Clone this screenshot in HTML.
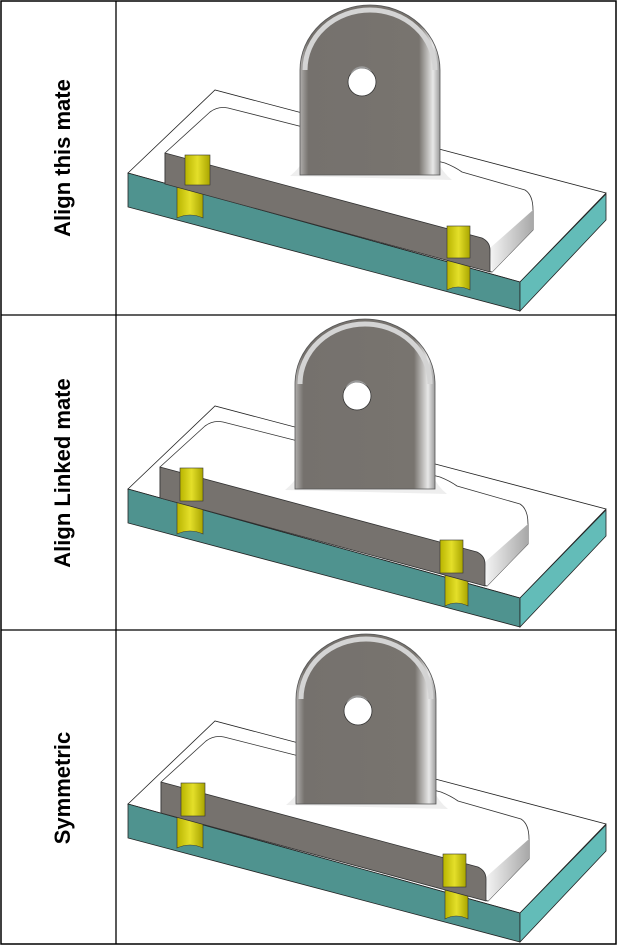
<!DOCTYPE html>
<html><head><meta charset="utf-8"><style>
html,body{margin:0;padding:0;background:#fff}
svg{display:block}
text{font-family:"Liberation Sans",sans-serif;font-weight:bold;font-size:22px}
</style></head><body>
<svg width="617" height="946" viewBox="0 0 617 946" xmlns="http://www.w3.org/2000/svg">
<defs>
<linearGradient id="yel" x1="0" x2="1" y1="0" y2="0">
<stop offset="0" stop-color="#b8b400"/><stop offset="0.5" stop-color="#e4df2a"/><stop offset="1" stop-color="#a9a500"/></linearGradient>
<linearGradient id="ear" x1="0" x2="1"><stop offset="0" stop-color="#b0aeac"/><stop offset="0.06" stop-color="#75716d"/><stop offset="0.85" stop-color="#78746f"/><stop offset="0.95" stop-color="#e8e8e8"/><stop offset="1" stop-color="#9a9a9a"/></linearGradient>
<linearGradient id="slab" x1="0" x2="1"><stop offset="0" stop-color="#f4f4f4"/><stop offset="1" stop-color="#a8a8a8"/></linearGradient>
<g id="plate">
<polygon points="128,173 215,90 606,193 520,282" fill="#fff" stroke="#222" stroke-width="0.8"/>
<polygon points="128,173 520,282 520,311 128,207" fill="#4f938f" stroke="#222" stroke-width="0.8"/>
<polygon points="520,282 606,194 606,220 520,311" fill="#63bcb8" stroke="#222" stroke-width="0.8"/>
</g>
<g id="upper">
<path d="M165,153 L210,112 Q218,106 228,108 L445,163 Q455,167 462,172 L525,190 Q533,195 533,210 L533,230 L492,272 L165,183 Z" fill="#fff" stroke="#333" stroke-width="0.8"/>
<polygon points="490,248 533,210 533,230 492,272" fill="url(#slab)"/>
<path d="M165,153 L482,238 Q490,242 490,250 L490,272 L165,184 Z" fill="#76726e" stroke="#333" stroke-width="0.8"/>
<path d="M290,176 Q300,168 303,160 L437,160 Q442,172 452,180 Z" fill="#eeeeee"/>
<path d="M300,175 L300,70 A70,65 0 0 1 440,70 L440,175 Z" fill="url(#ear)" stroke="#555" stroke-width="0.8"/>
<path d="M305,70 A65,60 0 0 1 435,70" fill="none" stroke="#d4d4d4" stroke-width="5"/>
<circle cx="362" cy="82" r="14" fill="#fff" stroke="#333" stroke-width="0.8"/>
<path d="M350,76 A14,14 0 0 1 372,72 A12,12 0 0 0 350,76Z" fill="#999"/>
</g>
</defs>

<rect x="1" y="1" width="615" height="943" fill="none" stroke="#000" stroke-width="1.5"/>
<line x1="116" y1="1" x2="116" y2="944" stroke="#000" stroke-width="1.3"/>
<line x1="1" y1="315" x2="616" y2="315" stroke="#000" stroke-width="1.3"/>
<line x1="1" y1="630" x2="616" y2="630" stroke="#000" stroke-width="1.3"/>

<text transform="translate(70,158) rotate(-90)" text-anchor="middle">Align this mate</text>
<text transform="translate(70,473) rotate(-90)" text-anchor="middle">Align Linked mate</text>
<text transform="translate(70,788) rotate(-90)" text-anchor="middle">Symmetric</text>

<g>
<use href="#plate"/>
<path d="M177,185 L203,185 L203,218 Q190,212 177,218 Z" fill="url(#yel)" stroke="#333" stroke-width="0.6"/>
<path d="M447,258 L470,258 L470,290 Q458,284 447,290 Z" fill="url(#yel)" stroke="#333" stroke-width="0.6"/>
<use href="#upper"/>
<rect x="185" y="155" width="25" height="30" fill="url(#yel)" stroke="#333" stroke-width="0.6"/>
<rect x="447" y="226" width="23" height="32" fill="url(#yel)" stroke="#333" stroke-width="0.6"/>
</g>
<g transform="translate(0,316)">
<use href="#plate"/>
<path d="M177,185 L203,185 L203,218 Q190,212 177,218 Z" fill="url(#yel)" stroke="#333" stroke-width="0.6"/>
<path d="M445,258 L468,258 L468,290 Q456,284 445,290 Z" fill="url(#yel)" stroke="#333" stroke-width="0.6"/>
<use href="#upper" transform="translate(-5,-2)"/>
<rect x="180" y="152" width="23" height="33" fill="url(#yel)" stroke="#333" stroke-width="0.6"/>
<rect x="440" y="224" width="23" height="33" fill="url(#yel)" stroke="#333" stroke-width="0.6"/>
</g>
<g transform="translate(0,631)">
<use href="#plate"/>
<path d="M177,185 L203,185 L203,217 Q190,211 177,217 Z" fill="url(#yel)" stroke="#333" stroke-width="0.6"/>
<path d="M445,256 L468,256 L468,288 Q456,282 445,288 Z" fill="url(#yel)" stroke="#333" stroke-width="0.6"/>
<use href="#upper" transform="translate(-4,-2)"/>
<rect x="181" y="152" width="24" height="33" fill="url(#yel)" stroke="#333" stroke-width="0.6"/>
<rect x="443" y="223" width="23" height="33" fill="url(#yel)" stroke="#333" stroke-width="0.6"/>
</g>
</svg>
</body></html>
